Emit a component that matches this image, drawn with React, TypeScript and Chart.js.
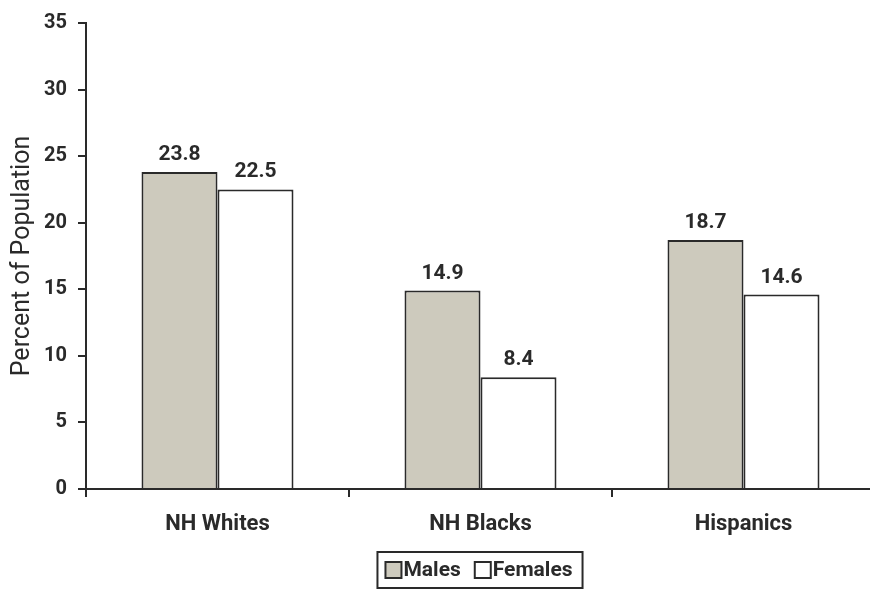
import React, { useEffect, useRef } from "react";
import { Chart, registerables } from "chart.js";

Chart.register(...registerables);

const categories = ["NH Whites", "NH Blacks", "Hispanics"];
const seriesNames = ["Males", "Females"];
const males = [23.8, 14.9, 18.7];
const females = [22.5, 8.4, 14.6];
const yTicks = [0, 5, 10, 15, 20, 25, 30, 35];
const yTitle = "Percent of Population";

const FONT = "'Roboto', 'Liberation Sans', sans-serif";
const INK = "#2a2a2a";
const MALE_FILL = "#cdcabd";
const FEMALE_FILL = "#ffffff";

const valueLabels = {
  id: "valueLabels",
  afterDatasetsDraw(chart: any) {
    const ctx = chart.ctx;
    ctx.save();
    ctx.font = `bold 21px ${FONT}`;
    ctx.fillStyle = INK;
    ctx.textAlign = "center";
    ctx.textBaseline = "alphabetic";
    chart.data.datasets.forEach((ds: any, i: number) => {
      const meta = chart.getDatasetMeta(i);
      meta.data.forEach((bar: any, j: number) => {
        ctx.fillText(String(ds.data[j]), bar.x, bar.y - 12);
      });
    });
    ctx.restore();
  },
};

const boxedLegend = {
  id: "boxedLegend",
  afterDraw(chart: any) {
    const ctx = chart.ctx;
    ctx.save();
    ctx.font = `bold 21px ${FONT}`;
    const sw = 16;
    const gapSwText = 2;
    const gapItems = 14;
    const items = chart.data.datasets.map((ds: any) => ({
      label: ds.label,
      fill: ds.backgroundColor,
      w: sw + gapSwText + ctx.measureText(ds.label).width,
    }));
    const total = items.reduce((s: number, it: any) => s + it.w, 0) + gapItems * (items.length - 1);
    const padL = 8;
    const padR = 10;
    const boxW = total + padL + padR;
    const boxH = 36;
    const cx = 480;
    const boxX = cx - boxW / 2;
    const boxY = 552;
    ctx.strokeStyle = INK;
    ctx.lineWidth = 2;
    ctx.strokeRect(boxX, boxY, boxW, boxH);
    let x = boxX + padL;
    const midY = boxY + boxH / 2;
    items.forEach((it: any) => {
      ctx.fillStyle = it.fill;
      ctx.fillRect(x, midY - sw / 2, sw, sw);
      ctx.lineWidth = 2;
      ctx.strokeRect(x, midY - sw / 2, sw, sw);
      ctx.fillStyle = INK;
      ctx.textAlign = "left";
      ctx.textBaseline = "middle";
      ctx.fillText(it.label, x + sw + gapSwText, midY + 1);
      x += it.w + gapItems;
    });
    ctx.restore();
  },
};

export default function App() {
  const ref = useRef<HTMLCanvasElement>(null);
  useEffect(() => {
    if (!ref.current) return;
    const chart = new Chart(ref.current, {
      type: "bar",
      data: {
        labels: categories,
        datasets: [
          {
            label: seriesNames[0],
            data: males,
            backgroundColor: MALE_FILL,
            borderColor: INK,
            borderWidth: 2,
            categoryPercentage: 0.578,
            barPercentage: 1,
          },
          {
            label: seriesNames[1],
            data: females,
            backgroundColor: FEMALE_FILL,
            borderColor: INK,
            borderWidth: 2,
            categoryPercentage: 0.578,
            barPercentage: 1,
          },
        ],
      },
      options: {
        responsive: false,
        animation: false,
        layout: { padding: { top: 19, right: 5, left: 0, bottom: 0 } },
        plugins: {
          legend: { display: false },
          tooltip: { enabled: false },
        },
        scales: {
          x: {
            offset: true,
            grid: {
              offset: true,
              drawOnChartArea: false,
              drawTicks: true,
              tickLength: 8,
              color: INK,
              lineWidth: 2,
            },
            border: { display: true, color: INK, width: 2 },
            ticks: {
              color: INK,
              font: { family: FONT, size: 22, weight: "bold" },
              padding: 14,
            },
            afterFit(scale: any) {
              scale.height = 102;
            },
          },
          y: {
            min: 0,
            max: 35,
            afterBuildTicks(scale: any) {
              scale.ticks = yTicks.map((v) => ({ value: v }));
            },
            grid: {
              drawOnChartArea: false,
              drawTicks: true,
              tickLength: 8,
              color: INK,
              lineWidth: 2,
            },
            border: { display: true, color: INK, width: 2 },
            ticks: {
              color: INK,
              font: { family: FONT, size: 20, weight: "bold" },
              padding: 11,
            },
            title: {
              display: true,
              text: yTitle,
              color: INK,
              font: { family: FONT, size: 25, weight: "normal" },
              padding: { top: 8, bottom: 0 },
            },
            afterFit(scale: any) {
              scale.width = 86;
            },
          },
        },
      },
      plugins: [valueLabels, boxedLegend],
    });
    return () => chart.destroy();
  }, []);
  return (
    <div
      style={{
        position: "fixed",
        left: 0,
        top: 0,
        width: 870,
        height: 591,
        overflow: "hidden",
        background: "#fff",
      }}
    >
      <canvas ref={ref} width={880} height={591} style={{ display: "block" }} />
    </div>
  );
}
